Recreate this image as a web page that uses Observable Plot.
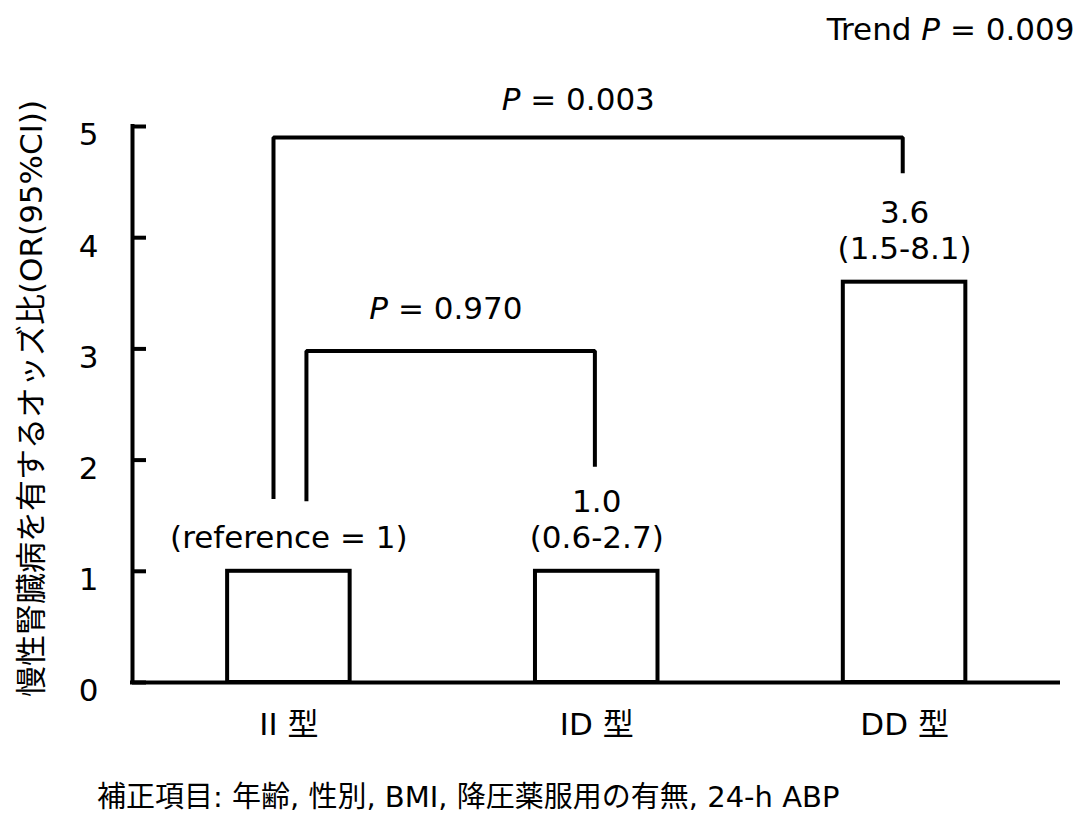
<!DOCTYPE html>
<html lang="ja">
<head>
<meta charset="utf-8">
<title>ACE遺伝子多型と慢性腎臓病のオッズ比</title>
<script src="https://cdn.jsdelivr.net/npm/d3@7"></script>
<script src="https://cdn.jsdelivr.net/npm/@observablehq/plot@0.6"></script>
<style>
  body { margin: 0; background: #fff; }
  #chart { width: 1080px; }
  #caption {
    font-family: "DejaVu Sans", "Noto Sans CJK JP", sans-serif;
    font-size: 29px;
    line-height: 40px;
    padding-top: 17px;
    margin-left: 97px;
    color: #000;
    white-space: pre;
  }
</style>
</head>
<body>
<div id="chart"></div>
<div id="caption"></div>
<script>
// Genotype groups and adjusted odds ratios (95% CI)
const groups = ["II 型", "ID 型", "DD 型"];
const oddsRatios = [1, 1.0, 3.6];
const ciLow = [null, 0.6, 1.5];
const ciHigh = [null, 2.7, 8.1];
const referenceText = "(reference = 1)";

// Pairwise comparisons against the II group, and the trend test
const comparisonFrom = ["II 型", "II 型"];
const comparisonTo = ["DD 型", "ID 型"];
const comparisonP = [0.003, 0.970];
const trendP = 0.009;

// Axis ticks and texts
const yTicks = [0, 1, 2, 3, 4, 5];
const yLabel = "慢性腎臓病を有するオッズ比(OR(95%CI))";
const captionText = "補正項目: 年齢, 性別, BMI, 降圧薬服用の有無, 24-h ABP";

// ---- build tables for the marks ----
const fmtP = p => `P = ${p.toFixed(3)}`;
const bars = groups.map((g, i) => ({
  group: g,
  i,
  or: oddsRatios[i],
  label: ciLow[i] == null
    ? referenceText
    : `${oddsRatios[i].toFixed(1)}\n(${ciLow[i]}-${ciHigh[i]})`
}));
const idx = g => groups.indexOf(g);

// bracket drawing: heights (in OR units) of the cross bar and of both feet,
// horizontal nudges of the feet in group units
const bracketLayout = [
  {level: 4.90, fromFoot: 1.65, toFoot: 4.58, fromShift: -0.05, toShift: -0.006, labelX: 0.94, labelY: 5.24},
  {level: 2.98, fromFoot: 1.63, toFoot: 1.94, fromShift: 0.057, toShift: -0.006, labelX: 0.51, labelY: 3.36}
];
const comparisons = comparisonP.map((p, k) => ({
  id: k,
  from: idx(comparisonFrom[k]),
  to: idx(comparisonTo[k]),
  label: fmtP(p),
  ...bracketLayout[k]
}));
const bracketPoints = comparisons.flatMap(c => [
  {id: c.id, x: c.from + c.fromShift, y: c.fromFoot},
  {id: c.id, x: c.from + c.fromShift, y: c.level},
  {id: c.id, x: c.to + c.toShift, y: c.level},
  {id: c.id, x: c.to + c.toShift, y: c.toFoot}
]);

const xDomain = [-0.508, 2.5];
const halfBar = 0.199;
const ink = "#000";
const font = "'DejaVu Sans', 'Noto Sans CJK JP', sans-serif";
const fs = 31;

const chart = Plot.plot({
  width: 1080,
  height: 760,
  marginLeft: 132,
  marginRight: 22,
  marginTop: 126,
  marginBottom: 78,
  x: {type: "linear", domain: xDomain},
  y: {domain: [0, 5]},
  style: {fontFamily: font, fontSize: `${fs}px`, color: ink, background: "#fff"},
  marks: [
    // bars
    Plot.rectY(bars, {
      x1: d => d.i - halfBar, x2: d => d.i + halfBar, y1: 0, y2: "or",
      fill: "#fff", stroke: ink, strokeWidth: 4
    }),
    // comparison brackets
    Plot.line(bracketPoints, {
      x: "x", y: "y", z: "id", stroke: ink, strokeWidth: 4,
      strokeLinejoin: "miter", strokeLinecap: "butt"
    }),
    // axes lines and inward ticks
    Plot.ruleY([0], {stroke: ink, strokeWidth: 4, strokeLinecap: "square"}),
    Plot.ruleX([xDomain[0]], {y1: 0, y2: 5, stroke: ink, strokeWidth: 4, strokeLinecap: "square"}),
    Plot.ruleY(yTicks, {y: d => d, x1: xDomain[0], x2: xDomain[0], insetRight: -14, stroke: ink, strokeWidth: 4}),
    Plot.axisY({ticks: yTicks, tickFormat: d => String(d), tickSize: 0, tickPadding: 34, fontSize: fs, dy: 9, label: null}),
    Plot.axisX({ticks: groups.map((g, i) => i), tickFormat: i => groups[i], tickSize: 0, tickPadding: 30, fontSize: fs, label: null}),
    // value labels above bars
    Plot.text(bars, {x: "i", y: "or", text: "label", lineAnchor: "bottom", lineHeight: 1.17, dy: -23, fontSize: fs, fill: ink}),
    // P values of the comparisons
    Plot.text(comparisons, {x: "labelX", y: "labelY", text: "label", fontSize: fs, fill: ink}),
    // trend test
    Plot.text([`Trend ${fmtP(trendP)}`], {
      frameAnchor: "top-right", textAnchor: "end", lineAnchor: "bottom",
      dx: 16, dy: -87, fontSize: fs, fill: ink
    }),
    // y axis title
    Plot.text([yLabel], {
      frameAnchor: "left", textAnchor: "middle", rotate: -90,
      dx: -100, dy: -6, fontSize: 31, fill: ink
    })
  ]
});

// set the statistic symbol P in italics
chart.querySelectorAll("text").forEach(t => {
  if (t.children.length) return;
  const s = t.textContent;
  const k = s.indexOf("P = ");
  if (k < 0) return;
  t.textContent = "";
  const ns = "http://www.w3.org/2000/svg";
  const parts = [[s.slice(0, k), null], ["P", "italic"], [s.slice(k + 1), null]];
  for (const [str, style] of parts) {
    if (!str) continue;
    const span = document.createElementNS(ns, "tspan");
    if (style) span.setAttribute("font-style", style);
    span.textContent = str;
    t.appendChild(span);
  }
});

document.getElementById("chart").appendChild(chart);
document.getElementById("caption").textContent = captionText;
</script>
</body>
</html>
